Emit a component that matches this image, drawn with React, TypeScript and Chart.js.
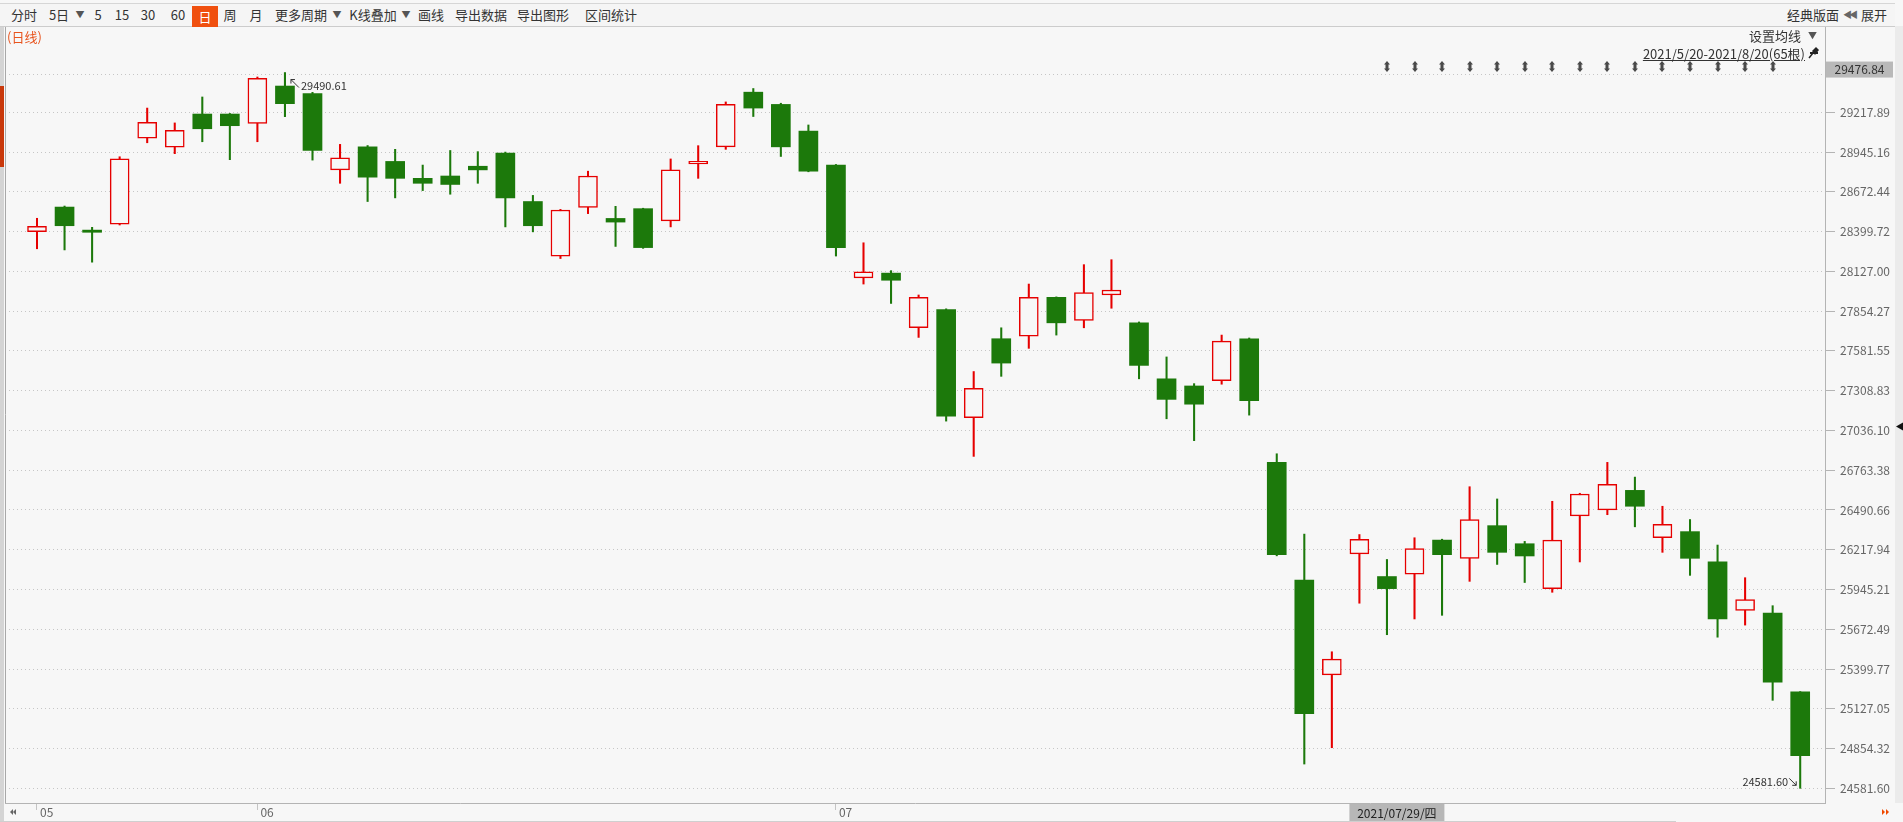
import React, { useEffect, useRef } from 'react';
import { Chart, registerables } from 'chart.js';

Chart.register(...registerables);

// ---------------- data ----------------
const dates = [
  '2021/05/20', '2021/05/21', '2021/05/24', '2021/05/25', '2021/05/26', '2021/05/27', '2021/05/28', '2021/05/31',
  '2021/06/01', '2021/06/02', '2021/06/03', '2021/06/04', '2021/06/07', '2021/06/08', '2021/06/09', '2021/06/10',
  '2021/06/11', '2021/06/15', '2021/06/16', '2021/06/17', '2021/06/18', '2021/06/21', '2021/06/22', '2021/06/23',
  '2021/06/24', '2021/06/25', '2021/06/28', '2021/06/29', '2021/06/30',
  '2021/07/02', '2021/07/05', '2021/07/06', '2021/07/07', '2021/07/08', '2021/07/09', '2021/07/12', '2021/07/13',
  '2021/07/14', '2021/07/15', '2021/07/16', '2021/07/19', '2021/07/20', '2021/07/21', '2021/07/22', '2021/07/23',
  '2021/07/26', '2021/07/27', '2021/07/28', '2021/07/29', '2021/07/30',
  '2021/08/02', '2021/08/03', '2021/08/04', '2021/08/05', '2021/08/06', '2021/08/09', '2021/08/10', '2021/08/11',
  '2021/08/12', '2021/08/13', '2021/08/16', '2021/08/17', '2021/08/18', '2021/08/19', '2021/08/20',
];

const opens = [
  28399, 28568, 28410, 28450, 29040, 28978, 29206, 29206, 29142, 29398,
  29347, 28823, 28981, 28881, 28765, 28781, 28848, 28939, 28606, 28232,
  28565, 28490, 28557, 28473, 28864, 28981, 29356, 29272, 29089, 28856,
  28082, 28115, 27741, 27865, 27124, 27665, 27682, 27949, 27791, 27965,
  27774, 27390, 27341, 27378, 27665, 26817, 26009, 25360, 26189, 26034,
  26051, 26284, 26159, 26383, 26259, 25951, 26450, 26491, 26625, 26300,
  26342, 26134, 25801, 25784, 25243,
];
const highs = [
  28491, 28575, 28429, 28913, 29247, 29145, 29323, 29210, 29460, 29490.61,
  29355, 28998, 28990, 28964, 28856, 28956, 28948, 28945, 28648, 28552,
  28814, 28573, 28560, 28898, 28989, 29289, 29381, 29280, 29131, 28860,
  28323, 28132, 27965, 27870, 27440, 27740, 28040, 27952, 28173, 28207,
  27780, 27540, 27357, 27690, 27670, 26876, 26325, 25518, 26322, 26151,
  26300, 26290, 26650, 26566, 26275, 26550, 26605, 26817, 26716, 26516,
  26425, 26250, 26026, 25834, 25245,
];
const lows = [
  28282, 28274, 28190, 28445, 29009, 28934, 29016, 28893, 29016, 29188,
  28890, 28731, 28606, 28631, 28681, 28656, 28731, 28432, 28398, 28215,
  28523, 28298, 28285, 28432, 28765, 28964, 29189, 28915, 28810, 28232,
  28040, 27907, 27674, 27100, 26858, 27407, 27599, 27690, 27740, 27874,
  27390, 27116, 26966, 27353, 27141, 26176, 24748, 24860, 25851, 25635,
  25743, 25768, 26001, 26117, 25993, 25926, 26134, 26458, 26375, 26200,
  26042, 25618, 25701, 25185, 24581.6,
];
const closes = [
  28436, 28440, 28395, 28898, 29149, 29094, 29105, 29126, 29451, 29277,
  28956, 28906, 28773, 28765, 28731, 28723, 28823, 28631, 28440, 28548,
  28781, 28465, 28290, 28823, 28881, 29272, 29247, 28981, 28814, 28290,
  28124, 28066, 27949, 27133, 27324, 27498, 27949, 27774, 27982, 27999,
  27482, 27249, 27216, 27648, 27241, 26184, 25093, 25468, 26289, 25951,
  26225, 26184, 26425, 26200, 26175, 26284, 26600, 26666, 26516, 26392,
  26159, 25743, 25876, 25310, 24805,
];

const yTickValues = [
  24581.6, 24854.32, 25127.05, 25399.77, 25672.49, 25945.21, 26217.94, 26490.66, 26763.38,
  27036.1, 27308.83, 27581.55, 27854.27, 28127.0, 28399.72, 28672.44, 28945.16, 29217.89,
];
const topPrice = 29476.84;
const markerPrice = 27036.1;
const highMark = { index: 9, value: 29490.61 };
const lowMark = { index: 64, value: 24581.6 };
const eventIndices = [49, 50, 51, 52, 53, 54, 55, 56, 57, 58, 59, 60, 61, 62, 63];
const crossIndex = 48;
const weekdayNames = ['日', '一', '二', '三', '四', '五', '六'];

// scale ranges
const yMin = 24480.8;
const yMax = 29809.8;
const xMin = -1.1615;
const xMax = 64.9;

// ---------------- style ----------------
const UP = '#e60000';
const DOWN = '#1c790b';
const BG = '#f7f7f7';
const FONT = '"Noto Sans CJK SC", "Noto Sans", sans-serif';

const monthStarts = dates
  .map((d, i) => (i === 0 || d.slice(5, 7) !== dates[i - 1].slice(5, 7) ? i : -1))
  .filter((i) => i >= 0);

const fmtShort = (d: string) => {
  const [y, m, dd] = d.split('/');
  return `${y}/${parseInt(m, 10)}/${parseInt(dd, 10)}`;
};
const rangeText = `${fmtShort(dates[0])}-${fmtShort(dates[dates.length - 1])}(${dates.length}根)`;
const crossText = (() => {
  const [y, m, d] = dates[crossIndex].split('/').map((s) => parseInt(s, 10));
  return `${dates[crossIndex]}/${weekdayNames[new Date(y, m - 1, d).getDay()]}`;
})();

const toolbarItems: { t: string; x: number; tri?: boolean; active?: boolean }[] = [
  { t: '分时', x: 24 },
  { t: '5日', x: 59 },
  { t: '▼', x: 80, tri: true },
  { t: '5', x: 98 },
  { t: '15', x: 122 },
  { t: '30', x: 148 },
  { t: '60', x: 178 },
  { t: '日', x: 205, active: true },
  { t: '周', x: 230 },
  { t: '月', x: 256 },
  { t: '更多周期', x: 301 },
  { t: '▼', x: 337, tri: true },
  { t: 'K线叠加', x: 373 },
  { t: '▼', x: 406, tri: true },
  { t: '画线', x: 431 },
  { t: '导出数据', x: 481 },
  { t: '导出图形', x: 543 },
  { t: '区间统计', x: 611 },
];

const overlayPlugin = {
  id: 'overlay',
  afterDraw(chart: any) {
    const { ctx } = chart;
    const xs = chart.scales.x;
    const ys = chart.scales.y;
    const area = chart.chartArea;
    ctx.save();

    // left strip
    ctx.fillStyle = '#d4d4d4';
    ctx.fillRect(0, area.top, 4, 822 - area.top);
    ctx.fillStyle = '#c9380b';
    ctx.fillRect(0, 86, 4, 81);
    ctx.strokeStyle = '#a8a8a8';
    ctx.lineWidth = 1;
    ctx.beginPath();
    ctx.moveTo(area.left + 0.5, area.top);
    ctx.lineTo(area.left + 0.5, area.bottom);
    ctx.stroke();

    // right strip
    ctx.fillStyle = '#ebebeb';
    ctx.fillRect(1895, area.top, 8, area.bottom - area.top);
    const my = ys.getPixelForValue(markerPrice) - 4;
    ctx.fillStyle = '#111';
    ctx.beginPath();
    ctx.moveTo(1896, my);
    ctx.lineTo(1903, my - 4);
    ctx.lineTo(1903, my + 4);
    ctx.closePath();
    ctx.fill();

    // top price box
    const ty = ys.getPixelForValue(topPrice);
    ctx.fillStyle = '#b9b9b9';
    ctx.fillRect(area.right + 1, ty - 13, 67, 16);
    ctx.fillStyle = '#333';
    ctx.font = `12px ${FONT}`;
    ctx.textAlign = 'center';
    ctx.textBaseline = 'middle';
    ctx.fillText(topPrice.toFixed(2), area.right + 34.5, ty - 5);

    // event icons
    ctx.fillStyle = '#4a4a4a';
    for (const idx of eventIndices) {
      const cx = Math.round(xs.getPixelForValue(idx));
      const cy = 66.5;
      ctx.fillRect(cx - 1.5, cy - 3, 3, 6);
      ctx.beginPath();
      ctx.moveTo(cx - 3, cy - 2);
      ctx.lineTo(cx + 3, cy - 2);
      ctx.lineTo(cx, cy - 5.5);
      ctx.closePath();
      ctx.fill();
      ctx.beginPath();
      ctx.moveTo(cx - 3, cy + 2);
      ctx.lineTo(cx + 3, cy + 2);
      ctx.lineTo(cx, cy + 5.5);
      ctx.closePath();
      ctx.fill();
    }

    // high / low annotations
    ctx.strokeStyle = '#333';
    ctx.fillStyle = '#333';
    ctx.lineWidth = 1;
    ctx.font = `11px ${FONT}`;
    const hx = xs.getPixelForValue(highMark.index);
    const hy = ys.getPixelForValue(highMark.value);
    ctx.beginPath();
    ctx.moveTo(hx + 14, hy + 15);
    ctx.lineTo(hx + 6, hy + 7);
    ctx.moveTo(hx + 6, hy + 7);
    ctx.lineTo(hx + 6, hy + 11);
    ctx.moveTo(hx + 6, hy + 7);
    ctx.lineTo(hx + 10, hy + 7);
    ctx.stroke();
    ctx.textAlign = 'left';
    ctx.textBaseline = 'middle';
    ctx.fillText(highMark.value.toFixed(2), hx + 16, hy + 13);

    const lx = xs.getPixelForValue(lowMark.index);
    const ly = ys.getPixelForValue(lowMark.value);
    ctx.beginPath();
    ctx.moveTo(lx - 11, ly - 10);
    ctx.lineTo(lx - 4, ly - 3);
    ctx.moveTo(lx - 4, ly - 3);
    ctx.lineTo(lx - 4, ly - 7);
    ctx.moveTo(lx - 4, ly - 3);
    ctx.lineTo(lx - 8, ly - 3);
    ctx.stroke();
    ctx.textAlign = 'right';
    ctx.fillText(lowMark.value.toFixed(2), lx - 12, ly - 6);

    // crosshair date box
    const cx = xs.getPixelForValue(crossIndex);
    ctx.fillStyle = '#b7b7b7';
    ctx.fillRect(cx - 10, area.bottom + 1, 95, 822 - area.bottom - 1);
    ctx.fillStyle = '#222';
    ctx.font = `12px ${FONT}`;
    ctx.textAlign = 'center';
    ctx.fillText(crossText, cx - 10 + 47.5, area.bottom + 10);

    // bottom line
    ctx.strokeStyle = '#cfcfcf';
    ctx.beginPath();
    ctx.moveTo(0, 821.5);
    ctx.lineTo(1676, 821.5);
    ctx.stroke();

    // bottom-left / right arrows
    ctx.fillStyle = '#666';
    for (const ox of [10, 13]) {
      ctx.beginPath();
      ctx.moveTo(ox, 812);
      ctx.lineTo(ox + 3, 809);
      ctx.lineTo(ox + 3, 815);
      ctx.closePath();
      ctx.fill();
    }
    ctx.fillStyle = '#f04a00';
    for (const ox of [1882, 1886]) {
      ctx.beginPath();
      ctx.moveTo(ox + 3, 812);
      ctx.lineTo(ox, 809);
      ctx.lineTo(ox, 815);
      ctx.closePath();
      ctx.fill();
    }

    // pin icon
    ctx.strokeStyle = '#222';
    ctx.fillStyle = '#222';
    ctx.lineWidth = 1.5;
    ctx.beginPath();
    ctx.moveTo(1809, 58);
    ctx.lineTo(1813, 53);
    ctx.stroke();
    ctx.beginPath();
    ctx.moveTo(1812, 51);
    ctx.lineTo(1816, 47);
    ctx.lineTo(1819, 50);
    ctx.lineTo(1815, 55);
    ctx.closePath();
    ctx.fill();
    ctx.fillRect(1810, 52, 8, 2);

    ctx.restore();
  },
};

export default function App() {
  const ref = useRef<HTMLCanvasElement>(null);

  useEffect(() => {
    document.body.style.margin = '0';
    const canvas = ref.current;
    if (!canvas) return;
    const n = dates.length;
    const idx = Array.from({ length: n }, (_, i) => i);
    const isUp = (i: number) => closes[i] >= opens[i];

    const chart = new Chart(canvas, {
      type: 'bar',
      data: {
        datasets: [
          {
            label: 'wick',
            data: idx.map((i) => ({ x: i, y: [lows[i], highs[i]] })) as any,
            backgroundColor: idx.map((i) => (isUp(i) ? UP : DOWN)),
            borderWidth: 0,
            barThickness: 1.4,
            grouped: false,
            order: 2,
          } as any,
          {
            label: 'body',
            data: idx.map((i) => ({ x: i, y: [opens[i], closes[i]] })) as any,
            backgroundColor: idx.map((i) => (isUp(i) ? BG : DOWN)),
            borderColor: idx.map((i) => (isUp(i) ? UP : DOWN)),
            borderWidth: idx.map((i) => (isUp(i) ? 1.5 : 0)),
            borderSkipped: false,
            barThickness: 19,
            grouped: false,
            order: 1,
          } as any,
        ],
      },
      options: {
        responsive: false,
        animation: false,
        events: [],
        layout: { padding: { left: 5, top: 26, right: 0, bottom: 0 } },
        plugins: { legend: { display: false }, tooltip: { enabled: false } },
        scales: {
          x: {
            type: 'linear',
            min: xMin,
            max: xMax,
            offset: false,
            bounds: 'data',
            afterBuildTicks: (scale: any) => {
              scale.ticks = monthStarts.map((v) => ({ value: v }));
            },
            afterFit: (scale: any) => {
              scale.height = 19;
            },
            grid: {
              display: true,
              offset: false,
              drawOnChartArea: false,
              drawTicks: true,
              tickLength: 7,
              tickColor: '#c4c4c4',
            },
            border: { display: true, color: '#b4b4b4', width: 1 },
            ticks: {
              autoSkip: false,
              maxRotation: 0,
              minRotation: 0,
              align: 'start',
              labelOffset: 3,
              padding: -5,
              color: '#666',
              font: { family: FONT, size: 12 },
              callback: (v: any) => {
                const d = dates[Math.round(Number(v))];
                return d ? d.slice(5, 7) : '';
              },
            },
          } as any,
          y: {
            type: 'linear',
            position: 'right',
            min: yMin,
            max: yMax,
            bounds: 'data',
            afterBuildTicks: (scale: any) => {
              scale.ticks = [...yTickValues, topPrice].map((v) => ({ value: v }));
            },
            afterFit: (scale: any) => {
              scale.width = 78;
            },
            grid: {
              display: true,
              color: '#c6c6c6',
              lineWidth: 1,
              drawTicks: true,
              tickLength: 10,
              tickColor: '#b4b4b4',
            },
            border: { display: true, color: '#b4b4b4', width: 1, dash: [1, 3] },
            ticks: {
              padding: 5,
              color: '#666',
              font: { family: FONT, size: 12 },
              callback: (v: any) => (Number(v) === topPrice ? '' : Number(v).toFixed(2)),
            },
          } as any,
        },
      },
      plugins: [overlayPlugin],
    });
    return () => chart.destroy();
  }, []);

  return (
    <div
      style={{
        position: 'fixed',
        left: 0,
        top: 0,
        width: 1903,
        height: 822,
        background: BG,
        overflow: 'hidden',
        fontFamily: FONT,
      }}
    >
      <canvas
        ref={ref}
        width={1903}
        height={822}
        style={{ position: 'absolute', left: 0, top: 0, width: 1903, height: 822 }}
      />
      {/* toolbar */}
      <div
        style={{
          position: 'absolute',
          left: 0,
          top: 3,
          width: 1895,
          height: 22,
          borderTop: '1px solid #d6d6d6',
          borderBottom: '1px solid #cccccc',
          background: '#f5f5f5',
        }}
      >
        {toolbarItems.map((it, i) =>
          it.active ? (
            <div
              key={i}
              style={{
                position: 'absolute',
                left: it.x - 13,
                top: 2,
                width: 26,
                height: 21,
                background: '#f0500f',
                color: '#fff',
                fontSize: 13,
                lineHeight: '21px',
                textAlign: 'center',
              }}
            >
              {it.t}
            </div>
          ) : (
            <span
              key={i}
              style={{
                position: 'absolute',
                left: it.x,
                top: 0,
                transform: 'translateX(-50%)',
                fontSize: it.tri ? 9 : 13,
                lineHeight: '22px',
                color: it.tri ? '#555' : '#333',
                whiteSpace: 'nowrap',
              }}
            >
              {it.t}
            </span>
          )
        )}
        <span style={{ position: 'absolute', left: 1813, top: 0, transform: 'translateX(-50%)', fontSize: 13, lineHeight: '22px', color: '#333', whiteSpace: 'nowrap' }}>
          经典版面
        </span>
        <span style={{ position: 'absolute', left: 1849, top: 0, transform: 'translateX(-50%)', fontSize: 9, lineHeight: '22px', color: '#666', whiteSpace: 'nowrap', letterSpacing: -3 }}>
          ◀◀
        </span>
        <span style={{ position: 'absolute', left: 1874, top: 0, transform: 'translateX(-50%)', fontSize: 13, lineHeight: '22px', color: '#333', whiteSpace: 'nowrap' }}>
          展开
        </span>
      </div>
      <span style={{ position: 'absolute', left: 7, top: 28, fontSize: 13, lineHeight: '18px', color: '#e8541e', whiteSpace: 'nowrap' }}>
        (日线)
      </span>
      <span style={{ position: 'absolute', right: 1903 - 1801, top: 27, fontSize: 13, lineHeight: '18px', color: '#333', whiteSpace: 'nowrap' }}>
        设置均线
      </span>
      <span style={{ position: 'absolute', left: 1808, top: 27, fontSize: 9, lineHeight: '18px', color: '#555', whiteSpace: 'nowrap' }}>
        ▼
      </span>
      <span
        style={{
          position: 'absolute',
          right: 1903 - 1805,
          top: 45,
          fontSize: 13,
          lineHeight: '18px',
          color: '#333',
          whiteSpace: 'nowrap',
          textDecoration: 'underline',
        }}
      >
        {rangeText}
      </span>
    </div>
  );
}
